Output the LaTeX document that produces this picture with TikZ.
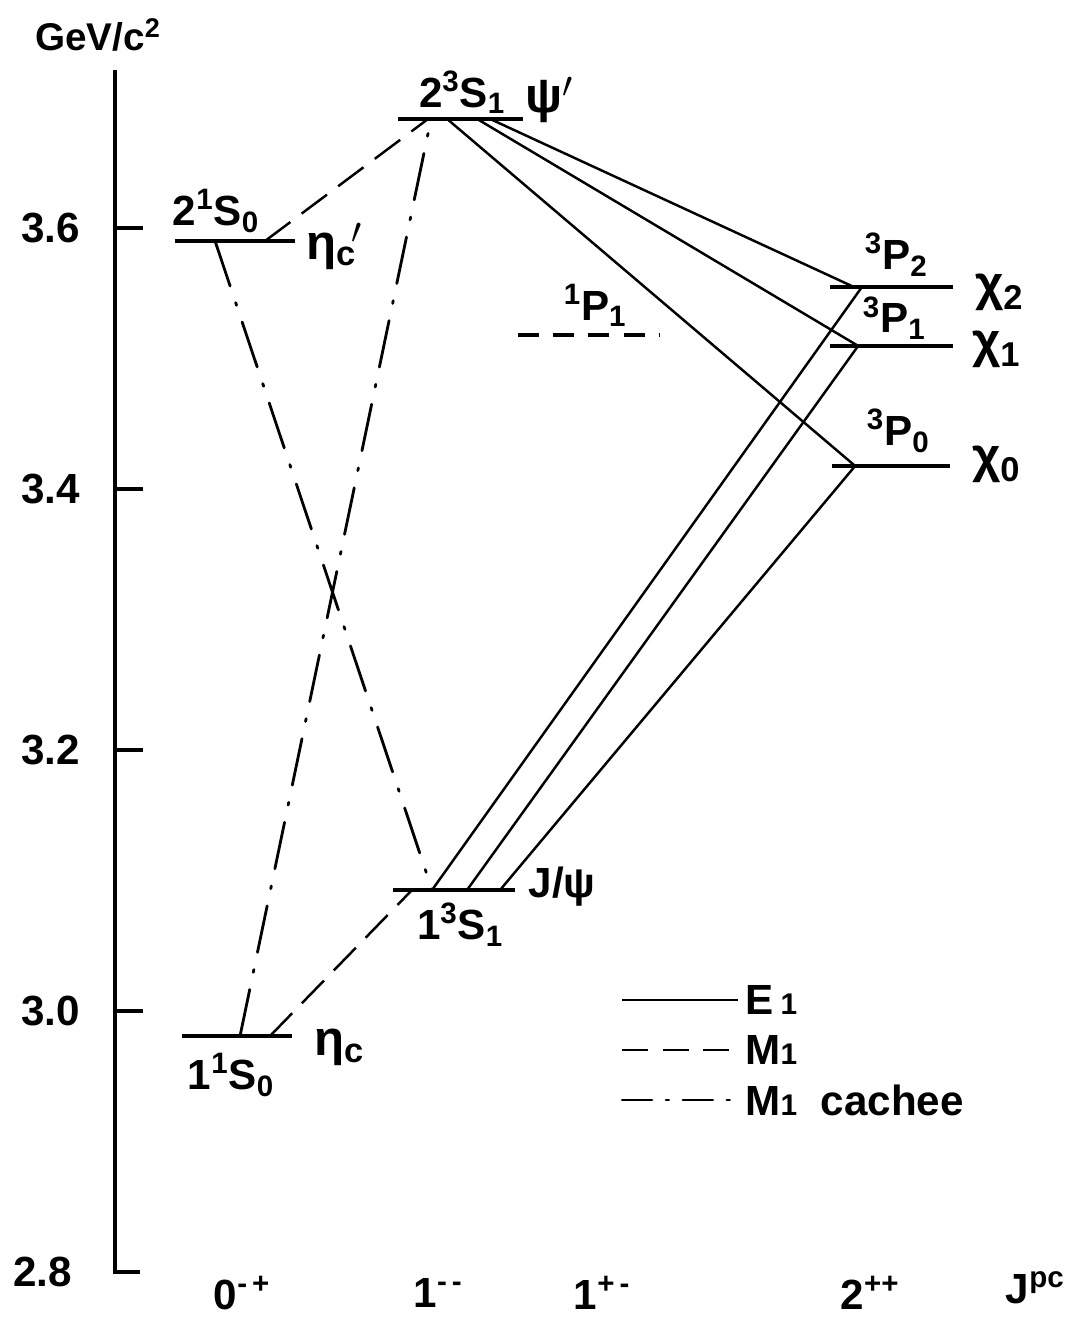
\documentclass[tikz,border=0pt]{standalone}
\usepackage{fontspec}
\setmainfont{Liberation Sans}
\usetikzlibrary{positioning}
\tikzset{
    % level lines and axis
    levelline/.style={line width=2.3pt},
    axisline/.style={line width=2.3pt},
    % transitions
    eone/.style={line width=1.4pt},
    mone/.style={line width=1.4pt, dash pattern=on 18pt off 8pt},
    monehid/.style={line width=1.6pt, line cap=round, dash pattern=on 27pt off 10pt on 1.6pt off 10pt},
    singlet/.style={line width=2.3pt, dash pattern=on 12pt off 8pt},
    % labels
    lab/.style={font=\fontsize{24}{26}\selectfont\bfseries, inner sep=0pt},
    greek/.style={font=\fontsize{28}{30}\selectfont\bfseries, inner sep=0pt},
}
\newcommand{\lo}[1]{{\fontsize{17}{17}\selectfont #1}}

\begin{document}
\begin{tikzpicture}[x=0.02cm, y=26.1cm]
    \useasboundingbox (0,2.7632) rectangle (1088,3.7747);

    % axis
    \draw[axisline] (115,3.7211) -- (115,2.8) -- (140,2.8);
    \foreach \e in {3.0,3.2,3.4,3.6}
        \draw[axisline] (115,\e) -- (143,\e);
    \foreach \e in {3.0,3.2,3.4,3.6}
        \node[lab, anchor=east] at (80,\e) {\e};
    \node[lab, anchor=east] at (72,2.8) {2.8};
    \node[lab, font=\fontsize{22}{24}\selectfont\bfseries] (unit) at (98,3.748) {GeV/c\textsuperscript{2}};

    % levels
    \draw[levelline] (175,3.590) -- (295,3.590);
    \draw[levelline] (398,3.6835) -- (523,3.6835);
    \draw[singlet] (518,3.518) -- (660,3.518);
    \draw[levelline] (830,3.555) -- (953,3.555);
    \draw[levelline] (830,3.5096) -- (953,3.5096);
    \draw[levelline] (832,3.4176) -- (950,3.4176);
    \draw[levelline] (393,3.0927) -- (515,3.0927);
    \draw[levelline] (182,2.9808) -- (292,2.9808);

    % attachment points
    \coordinate (etacpA) at (215,3.590);
    \coordinate (etacpB) at (265,3.590);
    \coordinate (psipA) at (428,3.6835);
    \coordinate (psipB) at (431,3.6835);
    \coordinate (psipC) at (447,3.6835);
    \coordinate (psipD) at (477,3.6835);
    \coordinate (psipE) at (490,3.6835);
    \coordinate (chiTwoA) at (853,3.555);
    \coordinate (chiTwoB) at (862,3.555);
    \coordinate (chiOne) at (858,3.5096);
    \coordinate (chiZero) at (855,3.4176);
    \coordinate (jpsiA) at (412,3.0927);
    \coordinate (jpsiB) at (432,3.0927);
    \coordinate (jpsiC) at (467,3.0927);
    \coordinate (jpsiD) at (500,3.0927);
    \coordinate (etacA) at (240,2.9808);
    \coordinate (etacB) at (270,2.9808);

    % level labels
    \node[lab, anchor=south] (lbetacp) at (216,3.5961) {2\textsuperscript{1}S\textsubscript{0}};
    \node[greek] (etacp) at (334,3.586) {η\textsubscript{c}\kern-0.1em\textsuperscript{$\prime$}};
    \node[lab, anchor=south] (lbpsip) at (462,3.6873) {2\textsuperscript{3}S\textsubscript{1}};
    \node[greek] (psip) at (549,3.698) {ψ$'$};
    \node[lab, anchor=south] (lbhc) at (595,3.5241) {\textsuperscript{1}P\textsubscript{1}};
    \node[lab, anchor=south] (lbchiTwo) at (896,3.5627) {\textsuperscript{3}P\textsubscript{2}};
    \node[greek] (chiTwo) at (999,3.551) {χ\textsubscript{2}};
    \node[lab, anchor=south] (lbchiOne) at (894,3.5142) {\textsuperscript{3}P\textsubscript{1}};
    \node[greek] (chiOneL) at (996,3.507) {χ\textsubscript{1}};
    \node[lab, anchor=south] (lbchiZero) at (898,3.4276) {\textsuperscript{3}P\textsubscript{0}};
    \node[greek] (chiZeroL) at (996,3.4185) {χ\textsubscript{0}};
    \node[lab] (jpsi) at (562,3.0953) {J/ψ};
    \node[lab, anchor=north] (lbjpsi) at (460,3.0827) {1\textsuperscript{3}S\textsubscript{1}};
    \node[lab, anchor=north] (lbetac) at (231,2.9678) {1\textsuperscript{1}S\textsubscript{0}};
    \node[greek] (etac) at (339,2.972) {η\textsubscript{c}};

    % E1
    \draw[eone] (psipE) -- (chiTwoA);
    \draw[eone] (psipD) -- (chiOne);
    \draw[eone] (psipC) -- (chiZero);
    \draw[eone] (jpsiB) -- (chiTwoB);
    \draw[eone] (jpsiC) -- (chiOne);
    \draw[eone] (jpsiD) -- (chiZero);
    % M1
    \draw[mone] (etacpB) -- (psipA);
    \draw[mone] (etacB) -- (jpsiA);
    % hindered M1
    \draw[monehid] (etacpA) -- (jpsiB);
    \draw[monehid] (etacA) -- (psipB);

    % quantum numbers
    \node[lab] (jpcA) at (242,2.7839) {0\textsuperscript{-\,+}};
    \node[lab] (jpcB) at (438,2.7839) {1\textsuperscript{-\,-}};
    \node[lab] (jpcC) at (602,2.7839) {1\textsuperscript{+\,-}};
    \node[lab] (jpcD) at (870,2.7839) {2\textsuperscript{++}};
    \node[lab] (jpc) at (1035,2.7877) {J\textsuperscript{pc}};

    % legend
    \node[lab, anchor=west] (legE) at (745,3.0084) {E\,\lo{1}};
    \node[lab, anchor=west] (legM) at (745,2.9701) {M\lo{1}};
    \node[lab, anchor=west] (legH) at (745,2.9318) {M\lo{1}\ \ cachee};
    \coordinate (legEs) at (622,3.0084);
    \coordinate (legMs) at (622,2.9701);
    \coordinate (legHs) at (622,2.9318);
    \draw[eone] (legEs) -- ([xshift=-4pt]legE.west);
    \draw[mone, dash pattern=on 15pt off 8pt] (legMs) -- ([xshift=-4pt]legM.west);
    \draw[monehid, dash pattern=on 17pt off 8pt on 1.6pt off 8pt] (legHs) -- ([xshift=-4pt]legH.west);
\end{tikzpicture}
\end{document}
